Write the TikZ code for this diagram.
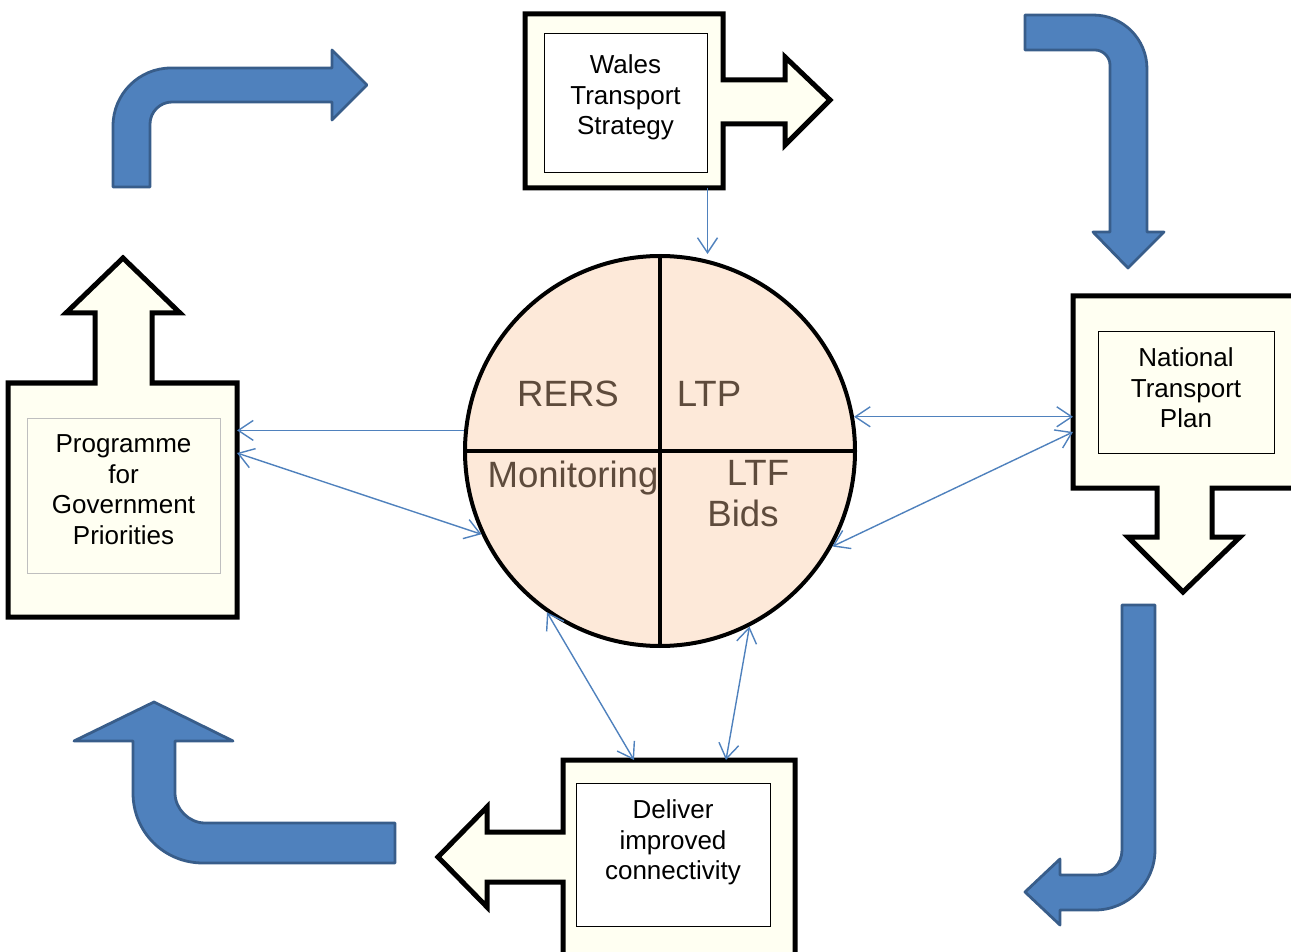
\documentclass[tikz,border=0pt]{standalone}
\usepackage{fontspec}
\setmainfont{Liberation Sans}
\usetikzlibrary{positioning,arrows.meta}
\definecolor{cream}{HTML}{FFFFF2}
\definecolor{peach}{HTML}{FDE9D9}
\definecolor{bluefill}{HTML}{4F81BD}
\definecolor{blueline}{HTML}{385D8A}
\definecolor{quadtext}{HTML}{5E4B3C}
\begin{document}
\begin{tikzpicture}[
    x=0.5pt, y=-0.5pt,                  % 像素坐标
    >={Straight Barb[length=7.5pt,width=10pt]},
    cardframe/.style={fill=cream, draw=black, line width=2.5pt},
    turnarrow/.style={fill=bluefill, draw=blueline, line width=1.4pt, line join=round},
    hotspot/.style={rectangle, inner sep=0pt, outer sep=0pt},
    inbox/.style={rectangle, draw=black, line width=0.5pt, inner sep=0pt},
    boxtext/.style={align=center, inner sep=0pt, font=\fontsize{13}{15.3}\selectfont},
    quadlabel/.style={text=quadtext, inner sep=0pt, font=\fontsize{18.3}{20.5}\selectfont},
    linkline/.style={draw=bluefill, line width=0.7pt}
]
    \clip (0,0) rectangle (1291,952);

    % 蓝色弯箭头
    \draw[turnarrow] (113,187) -- (113,126) .. controls (113,94) and (139,68) .. (171,68)
        -- (332,68) -- (332,50) -- (367,85) -- (332,120) -- (332,102) -- (172,102)
        .. controls (160,102) and (150,112) .. (150,124) -- (150,187) -- cycle;
    \draw[turnarrow] (1025,15) -- (1093,15) .. controls (1123,15) and (1147,39) .. (1147,69)
        -- (1147,232) -- (1164,232) -- (1128,268) -- (1093,232) -- (1110,232) -- (1110,65)
        .. controls (1110,57) and (1103,50) .. (1095,50) -- (1025,50) -- cycle;
    \draw[turnarrow] (1122,605) -- (1155,605) -- (1155,850) .. controls (1155,883) and (1128,910) .. (1095,910)
        -- (1060,910) -- (1060,925) -- (1025,892) -- (1060,859) -- (1060,875) -- (1097,875)
        .. controls (1111,875) and (1122,864) .. (1122,850) -- cycle;
    \draw[turnarrow] (395,823) -- (395,863) -- (203,863) .. controls (164,863) and (133,832) .. (133,793)
        -- (133,741) -- (74,741) -- (154,702) -- (233,741) -- (175,741) -- (175,793)
        .. controls (175,809) and (189,823) .. (205,823) -- cycle;

    % 方框 (带箭头)
    \draw[cardframe] (525,14) -- (723,14) -- (723,80) -- (785,80) -- (785,57) -- (830,100)
        -- (785,145) -- (785,124) -- (723,124) -- (723,188) -- (525,188) -- cycle;
    \draw[cardframe] (8,383) -- (95,383) -- (95,313) -- (66,313) -- (123,258) -- (180,313)
        -- (152,313) -- (152,383) -- (237,383) -- (237,617) -- (8,617) -- cycle;
    \draw[cardframe] (1073,296) -- (1300,296) -- (1300,488) -- (1212,488) -- (1212,537)
        -- (1240,537) -- (1183,592) -- (1128,537) -- (1157,537) -- (1157,488) -- (1073,488) -- cycle;
    \draw[cardframe] (563,760) -- (795,760) -- (795,990) -- (563,990) -- (563,882) -- (487,882)
        -- (487,907) -- (438,857) -- (487,807) -- (487,832) -- (563,832) -- cycle;

    % 节点
    \node[hotspot, minimum width=99pt, minimum height=87pt] (wts) at (624,101) {};
    \node[hotspot, minimum width=114.5pt, minimum height=117pt] (pgp) at (122.5,500) {};
    \node[hotspot, minimum width=113.5pt, minimum height=96pt] (ntp) at (1186.5,392) {};
    \node[hotspot, minimum width=116pt, minimum height=115pt] (dic) at (679,875) {};

    \node[inbox, fill=white, minimum width=81.5pt, minimum height=69.5pt] (wtsin) at (625.5,103.5) {};
    \node[inbox, draw=black!25, fill=cream, minimum width=96.5pt, minimum height=77.5pt] (pgpin) at (123.5,495.5) {};
    \node[inbox, fill=cream, minimum width=88pt, minimum height=60.5pt] (ntpin) at (1186,392.5) {};
    \node[inbox, fill=white, minimum width=97pt, minimum height=71.5pt] (dicin) at (673,854.5) {};

    \node[boxtext, below=10.5pt of wtsin.north] (wtstext) {Wales\\Transport\\Strategy};
    \node[boxtext, below=8.5pt of pgpin.north] (pgptext) {Programme\\for\\Government\\Priorities};
    \node[boxtext, below=8pt of ntpin.north] (ntptext) {National\\Transport\\Plan};
    \node[boxtext, below=8.5pt of dicin.north] (dictext) {Deliver\\improved\\connectivity};

    % 圆
    \node[circle, draw, line width=2pt, fill=peach, minimum size=195pt, inner sep=0pt] (hub) at (660,451) {};
    \draw[line width=1.8pt] (hub.north) -- (hub.south) (hub.west) -- (hub.east);
    \node[quadlabel, anchor=base] (rers) at (568,407) {RERS};
    \node[quadlabel, anchor=base] (ltp) at (709,407) {LTP};
    \node[quadlabel, anchor=base] (mon) at (573,487) {Monitoring};
    \node[quadlabel, align=center, anchor=north] (ltf) at (743,460) {\hspace*{15pt}LTF\\Bids};

    % 边
    \draw[linkline,->] (wts.south -| wtsin.east) -- (wtsin.east |- hub.north);
    \draw[linkline,->] (hub.174) -- (pgp.east |- hub.174);
    \draw[linkline,<->] ([yshift=23.5pt]pgp.east) -- (hub.205);
    \draw[linkline,<->] (hub.10.6) -- (ntp.west |- hub.10.6);
    \draw[linkline,<->] ([yshift=-20pt]ntp.west) -- (hub.-29.5);
    \draw[linkline,<->] (hub.235) -- ([xshift=35.5pt]dic.north west);
    \draw[linkline,<->] (hub.-63) -- ([xshift=81.5pt]dic.north west);
\end{tikzpicture}
\end{document}
